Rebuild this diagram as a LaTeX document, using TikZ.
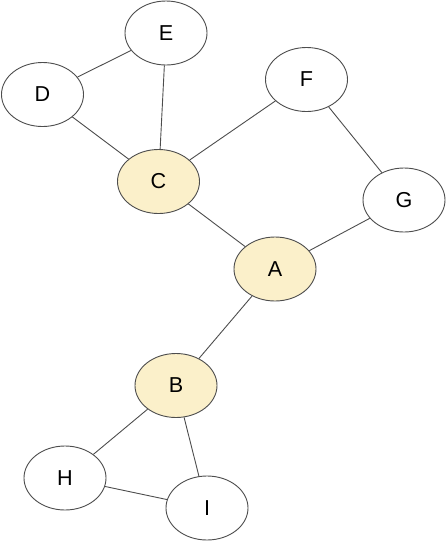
\documentclass[tikz,border=0pt]{standalone}
\usepackage{fontspec}
\setmainfont{Liberation Sans}
\usetikzlibrary{shapes.geometric}
\definecolor{hl}{HTML}{FBF0CA}
\definecolor{edge}{HTML}{4D4D4D}
\begin{document}
\begin{tikzpicture}[x=1pt,y=-1pt,
  vtx/.style={ellipse,draw=edge,line width=0.9pt,fill=white,minimum width=82pt,minimum height=64pt,inner sep=0pt,font=\fontsize{21.6}{21.6}\selectfont},
  hot/.style={vtx,fill=hl},
  link/.style={draw=edge,line width=0.9pt}]
\useasboundingbox (0,0) rectangle (446,542);
\node[vtx] (E) at (166,33) {E};
\node[vtx] (D) at (42.5,94.5) {D};
\node[vtx] (F) at (306.5,79.5) {F};
\node[hot] (C) at (158.5,181.5) {C};
\node[vtx] (G) at (404,200) {G};
\node[hot] (A) at (275,269) {A};
\node[hot] (B) at (176,385.5) {B};
\node[vtx] (H) at (65,478) {H};
\node[vtx] (I) at (207,508) {I};
\path[link] (D) -- (E);
\path[link] (E) -- (C);
\path[link] (D) -- (C);
\path[link] (F) -- (C);
\path[link] (F) -- (G);
\path[link] (C) -- (A);
\path[link] (G) -- (A);
\path[link] (A) -- (B);
\path[link] (B) -- (H);
\path[link] (B) -- (I);
\path[link] (H) -- (I);
\end{tikzpicture}
\end{document}
